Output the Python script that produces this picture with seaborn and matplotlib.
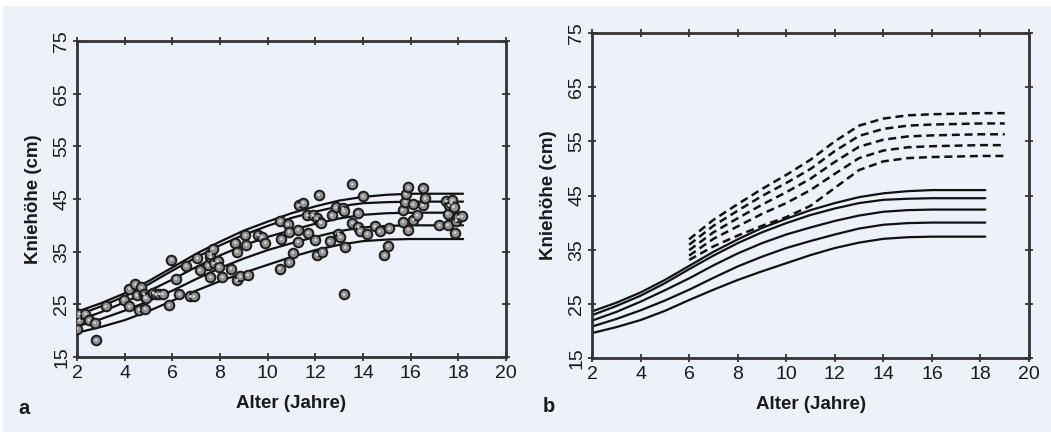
import numpy as np
import pandas as pd
import matplotlib
matplotlib.use("Agg")
import matplotlib.pyplot as plt
from matplotlib.patches import Rectangle
import seaborn as sns

# ---------------- data ----------------
ages_solid = [2, 3, 4, 5, 6, 7, 8, 9, 10, 11, 12, 13, 14, 15, 16, 17, 18.2]
solid_c1 = [23.6, 25.2, 27.1, 29.4, 32.0, 34.6, 36.9, 39.0, 40.7, 42.3, 43.6, 44.7, 45.4, 45.8, 46.0, 46.0, 46.0]
solid_c2 = [22.9, 24.6, 26.5, 28.8, 31.4, 33.9, 36.2, 38.2, 39.9, 41.4, 42.6, 43.6, 44.2, 44.4, 44.5, 44.5, 44.5]
solid_c3 = [21.9, 23.5, 25.4, 27.5, 29.7, 32.1, 34.3, 36.2, 37.8, 39.1, 40.3, 41.3, 42.0, 42.3, 42.4, 42.4, 42.4]
solid_c4 = [20.8, 22.2, 23.8, 25.6, 27.6, 29.8, 31.9, 33.7, 35.3, 36.6, 37.8, 38.9, 39.6, 39.9, 40.0, 40.0, 40.0]
solid_c5 = [19.6, 20.7, 22.0, 23.7, 25.7, 27.6, 29.4, 31.0, 32.5, 34.0, 35.3, 36.3, 37.0, 37.3, 37.4, 37.4, 37.4]

ages_dash = [6, 7, 8, 9, 10, 11, 12, 13, 14, 15, 16, 17, 18, 19]
dash_c1 = [36.9, 40.5, 43.4, 46.2, 48.8, 51.6, 55.0, 57.9, 59.2, 59.8, 60.0, 60.1, 60.2, 60.2]
dash_c2 = [35.9, 39.4, 42.2, 44.9, 47.3, 49.9, 53.2, 56.0, 57.3, 57.9, 58.1, 58.2, 58.3, 58.3]
dash_c3 = [34.9, 38.2, 40.8, 43.3, 45.6, 48.1, 51.2, 54.0, 55.3, 55.9, 56.1, 56.2, 56.3, 56.3]
dash_c4 = [33.9, 37.0, 39.3, 41.6, 43.6, 46.0, 49.0, 51.9, 53.3, 53.9, 54.1, 54.2, 54.3, 54.3]
dash_c5 = [33.1, 35.6, 37.6, 39.4, 41.0, 43.1, 46.4, 49.7, 51.3, 51.9, 52.1, 52.2, 52.3, 52.3]

obs_age = [2.0, 2.1, 2.1, 2.35, 2.5, 2.75, 2.8, 3.2,
           3.96, 4.2, 4.2, 4.45, 4.5, 4.6, 4.7, 4.8, 4.85, 4.85, 4.9, 5.2, 5.3, 5.45, 5.6,
           5.85, 5.96, 6.15, 6.3, 6.57, 6.75, 6.9, 7.04, 7.15,
           7.5, 7.6, 7.6, 7.6, 7.7, 7.73, 7.9, 7.95, 8.1, 8.46, 8.64, 8.7, 8.7, 8.85,
           9.06, 9.1, 9.16, 9.6, 9.76, 9.9, 10.53, 10.57, 10.5, 10.84, 10.9, 10.9, 11.06,
           11.27, 11.27, 11.3, 11.5, 11.67, 11.7, 11.9, 12.0, 12.07, 12.07, 12.14, 12.2,
           12.25, 12.3, 12.6, 12.7, 12.86, 12.97, 13.05, 13.15, 13.2, 13.2, 13.26, 13.55,
           13.55, 13.78, 13.8, 13.87, 14.0, 14.17, 14.5, 14.7, 14.9, 15.05, 15.1,
           15.66, 15.68, 15.78, 15.8, 15.9, 15.9, 16.1, 16.1, 16.26, 16.5, 16.5, 16.6,
           17.2, 17.5, 17.55, 17.55, 17.6, 17.7, 17.75, 17.8, 17.86, 17.9, 18.0, 18.15]
obs_height = [20.4, 22.0, 23.2, 23.2, 22.0, 21.5, 18.2, 24.6,
              25.9, 28.0, 24.6, 28.8, 26.7, 24.0, 28.2, 27.0, 26.3, 24.2, 26.2, 27.2, 26.9, 27.0, 27.0,
              24.8, 33.5, 29.9, 26.9, 32.3, 26.5, 26.5, 33.8, 31.5,
              32.4, 34.0, 34.6, 30.2, 35.6, 32.8, 33.2, 32.1, 30.2, 31.8, 36.7, 35.0, 29.6, 30.3,
              38.1, 36.3, 30.6, 38.2, 37.8, 36.7, 40.8, 37.4, 31.8, 40.2, 38.8, 33.0, 34.8,
              39.2, 36.9, 43.8, 44.3, 41.9, 38.6, 41.9, 37.2, 41.3, 34.4, 45.8, 40.6,
              40.5, 35.0, 37.0, 41.9, 43.4, 38.4, 37.8, 43.2, 42.7, 26.9, 35.8, 47.8,
              40.5, 42.4, 39.7, 38.9, 45.5, 38.4, 39.8, 38.9, 34.3, 36.1, 39.4,
              42.9, 40.7, 44.5, 45.9, 47.2, 39.2, 44.0, 41.1, 41.9, 43.8, 47.0, 45.1,
              40.0, 44.6, 42.2, 40.1, 43.8, 44.3, 44.8, 43.5, 38.6, 40.9, 41.6, 41.7]

x_ticks = [2, 4, 6, 8, 10, 12, 14, 16, 18, 20]
y_ticks = [15, 25, 35, 45, 55, 65, 75]
x_label = "Alter (Jahre)"
y_label = "Kniehöhe (cm)"
panel_labels = ["a", "b"]

# ---------------- style ----------------
BG = "#edf1fa"
sns.set_theme(style="ticks")
plt.rcParams["font.family"] = ["Liberation Sans", "DejaVu Sans"]

W, H = 1051, 432
fig = plt.figure(figsize=(W / 100, H / 100), dpi=100, facecolor="white")
fig.patches.append(Rectangle((3 / W, 0), 1, (H - 6) / H, transform=fig.transFigure,
                             facecolor=BG, edgecolor="none", zorder=-10))

def px_axes(x0, x1, ytop, ybot):
    return fig.add_axes([x0 / W, 1 - ybot / H, (x1 - x0) / W, (ybot - ytop) / H])

axA = px_axes(77, 506, 41, 357)
axB = px_axes(592, 1029, 33, 358)

solid = [solid_c1, solid_c2, solid_c3, solid_c4, solid_c5]
dashed = [dash_c1, dash_c2, dash_c3, dash_c4, dash_c5]

solid_df = pd.DataFrame({
    "age": np.tile(ages_solid, len(solid)),
    "h": np.concatenate(solid),
    "curve": np.repeat(np.arange(len(solid)), len(ages_solid)),
})
obs_df = pd.DataFrame({"age": obs_age, "h": obs_height})

for ax in (axA, axB):
    ax.set_facecolor(BG)
    sns.lineplot(data=solid_df, x="age", y="h", units="curve", estimator=None,
                 color="#111111", lw=1.6, ax=ax, zorder=2)

sns.scatterplot(data=obs_df, x="age", y="h", ax=axA, s=48, color="#8f8f8f",
                edgecolor="#1c1c1c", linewidth=1.4, zorder=3)
sns.scatterplot(data=obs_df, x="age", y="h", ax=axA, s=4, color="#d4d4d4",
                edgecolor="none", linewidth=0, zorder=4)

for vals in dashed:
    sns.lineplot(x=ages_dash, y=vals, ax=axB, color="#111111", lw=1.8,
                 linestyle=(0, (3.2, 1.9)), zorder=2)

for ax in (axA, axB):
    ax.set_xlim(2, 20)
    ax.set_ylim(15, 75)
    ax.set_xticks(x_ticks)
    ax.set_yticks(y_ticks)
    for s in ax.spines.values():
        s.set_visible(True)
        s.set_linewidth(2.0)
        s.set_color("#333333")
    ax.tick_params(direction="inout", length=6, width=1.3, color="#333333",
                   top=True, right=True, labeltop=False, labelright=False,
                   labelsize=14, labelcolor="#1a1a1a")
    ax.tick_params(axis="x", pad=3)
    ax.tick_params(axis="y", pad=2, labelrotation=90)
    for t in ax.get_yticklabels():
        t.set_va("center")
    ax.set_xlabel(x_label, fontsize=13.5, fontweight="bold", labelpad=9, color="#1a1a1a")
    ax.set_ylabel(y_label, fontsize=13.5, fontweight="bold", labelpad=8, color="#1a1a1a")
    ax.grid(False)

fig.text(18 / W, 1 - 408 / H, panel_labels[0], fontsize=14.5, fontweight="bold",
         ha="left", va="center", color="#1a1a1a")
fig.text(543 / W, 1 - 407 / H, panel_labels[1], fontsize=14.5, fontweight="bold",
         ha="left", va="center", color="#1a1a1a")

fig.savefig("out.png", dpi=100, facecolor="white")
